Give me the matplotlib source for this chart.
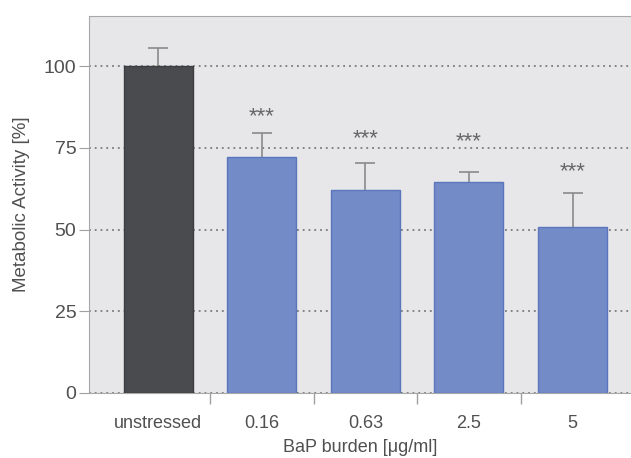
import matplotlib
matplotlib.use('AGG')
import matplotlib.pyplot as plt
import numpy as np

categories = ['unstressed', '0.16', '0.63', '2.5', '5']
activity = [100.0, 72.1, 62.1, 64.6, 50.9]
err_up = [5.4, 7.3, 8.1, 3.1, 10.4]
stars_y = [None, 84.5, 77.7, 77.0, 67.6]
bar_colors = ['#4a4b4f', '#738bc7', '#738bc7', '#738bc7', '#738bc7']
edge_colors = ['#3c3d40', '#5a76bd', '#5a76bd', '#5a76bd', '#5a76bd']

plt.rcParams['font.family'] = ['Liberation Sans', 'DejaVu Sans']
txt = '#505050'

fig = plt.figure(figsize=(6.31, 4.58), dpi=100)
ax = fig.add_axes([0.141, 0.142, 0.859, 0.823])
ax.set_facecolor('#e7e7ea')

x = np.arange(len(categories))
ax.bar(x, activity, width=0.667, color=bar_colors, edgecolor=edge_colors,
       linewidth=1, zorder=3)
eb = ax.errorbar(x, activity, yerr=[np.zeros(len(x)), err_up], fmt='none',
                 ecolor='#8a8a8a', elinewidth=1.2, capsize=7, capthick=1.2, zorder=2)
# hide the lower caps sitting on the bar tops
for cap in eb[1]:
    if np.allclose(cap.get_ydata(), activity):
        cap.set_visible(False)

for xi, sy in zip(x, stars_y):
    if sy is not None:
        ax.text(xi, sy, '***', ha='center', va='center', fontsize=16,
                color='#666666', zorder=4)

ax.set_ylim(0, 115.3)
ax.set_xlim(-0.67, 4.565)
ax.set_yticks([0, 25, 50, 75, 100])
ax.yaxis.grid(True, linestyle=(0, (1, 2.2)), color='#7a7a7a', linewidth=1.3, zorder=1)
ax.set_axisbelow(True)

ax.set_xticks(x)
ax.set_xticklabels(categories)
ax.set_xticks(x[:-1] + 0.5, minor=True)
ax.tick_params(axis='x', which='major', length=0, pad=16, labelsize=13, labelcolor=txt)
ax.tick_params(axis='x', which='minor', length=8, color='#a0a0a0', width=1)
ax.tick_params(axis='y', length=7, color='#a0a0a0', labelsize=14, labelcolor=txt, pad=2)

for side in ['left', 'bottom', 'top']:
    ax.spines[side].set_color('#a8a8a8')
ax.spines['right'].set_visible(False)

ax.set_ylabel('Metabolic Activity [%]', fontsize=13.5, color=txt, labelpad=10)
ax.set_xlabel('BaP burden [\u03bcg/ml]', fontsize=13, color=txt, labelpad=5)

fig.savefig('out.png', dpi=100)
